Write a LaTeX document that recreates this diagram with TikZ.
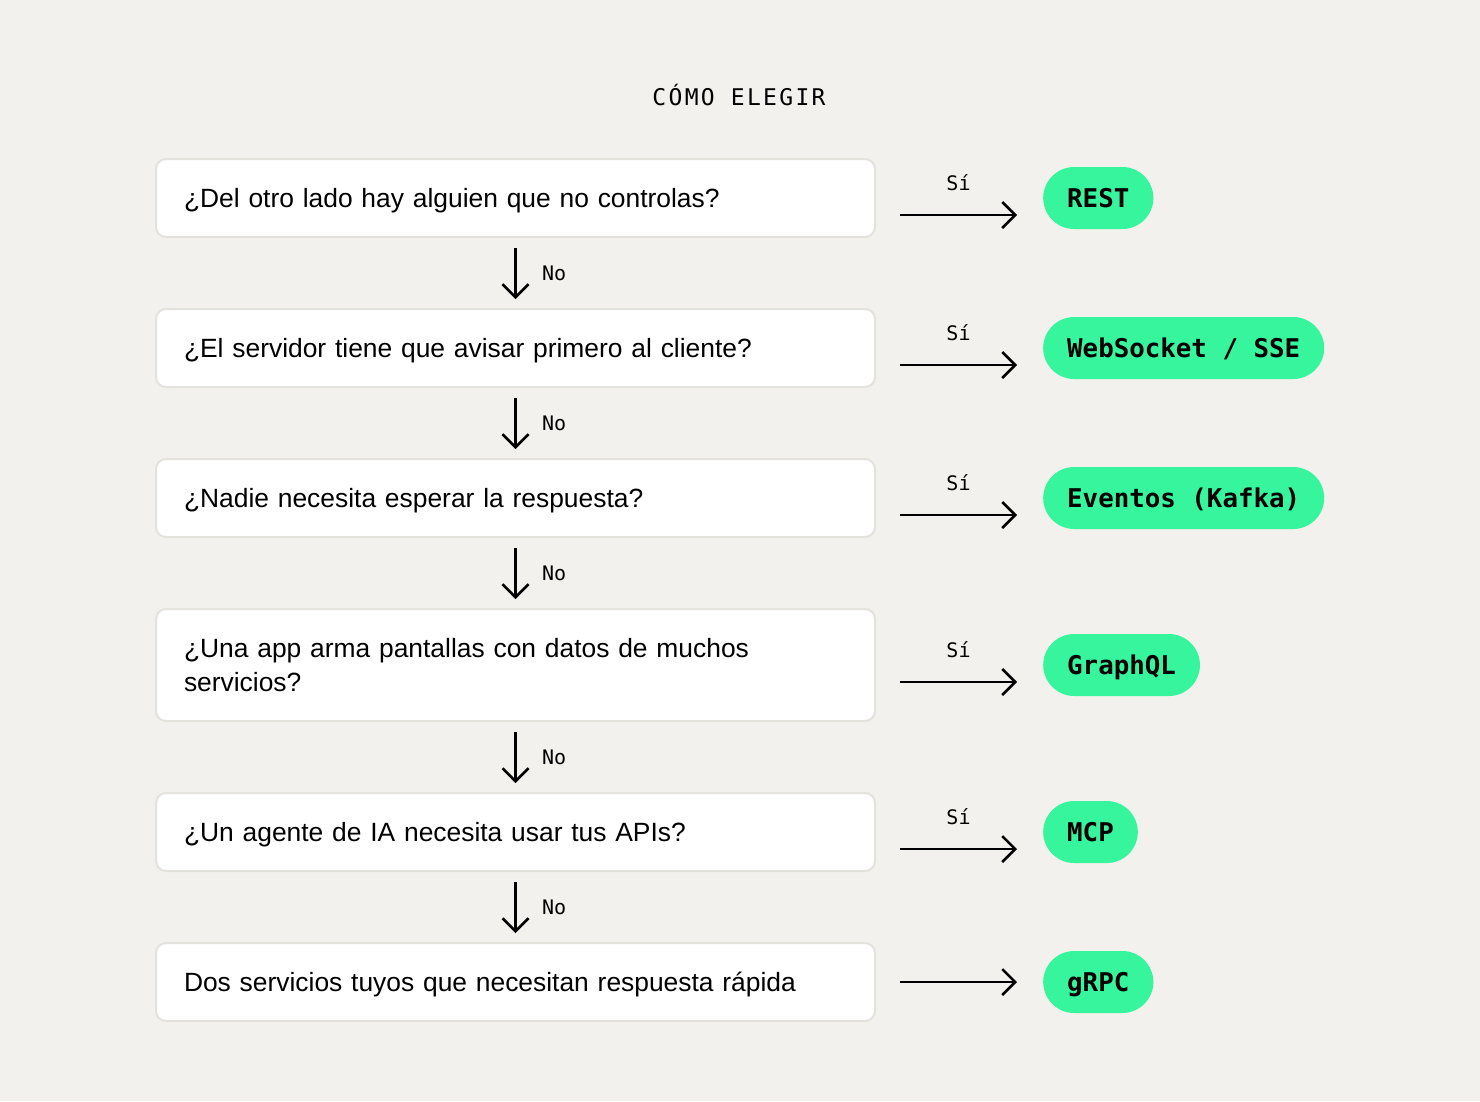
\documentclass[tikz,border=0pt]{standalone}
\usepackage{fontspec}
\setmainfont{Liberation Sans}
\setmonofont{DejaVu Sans Mono}
\usetikzlibrary{arrows.meta,positioning}
\definecolor{bg}{HTML}{F2F1ED}
\definecolor{rim}{HTML}{E3E2DD}
\definecolor{mint}{HTML}{36F59C}
\begin{document}
\begin{tikzpicture}[x=1pt,y=-1pt,
  question/.style={draw=rim,line width=2pt,fill=white,rounded corners=10pt,anchor=west,minimum height=78pt,text width=663pt,inner xsep=28pt,align=left,text height=18pt,text depth=0pt,font=\fontsize{26.4}{34}\selectfont},
  answer/.style={fill=mint,rounded corners=31pt,anchor=west,minimum height=62pt,inner xsep=24pt,inner ysep=0pt,text height=18pt,text depth=0pt,font=\fontsize{25.8}{30}\selectfont\ttfamily\bfseries},
  arr/.style={line width=2.5pt,-{Straight Barb[length=13pt,width=26pt]}},
  tag/.style={font=\fontsize{20}{24}\selectfont\ttfamily}]
\fill[bg] (0,0) rectangle (1480,1101);
\useasboundingbox (0,0) rectangle (1480,1101);
\node[font=\fontsize{23}{28}\selectfont\ttfamily\addfontfeature{LetterSpace=10}] (title) at (739,95) {CÓMO ELEGIR};
% questions
\node[question] (q1) at (155,198) {¿Del otro lado hay alguien que no controlas?};
\node[question] (q2) at (155,348) {¿El servidor tiene que avisar primero al cliente?};
\node[question] (q3) at (155,498) {¿Nadie necesita esperar la respuesta?};
\node[question,minimum height=112pt,text depth=34pt] (q4) at (155,665) {¿Una app arma pantallas con datos de muchos\\servicios?};
\node[question] (q5) at (155,832) {¿Un agente de IA necesita usar tus APIs?};
\node[question] (q6) at (155,982) {Dos servicios tuyos que necesitan respuesta rápida};
% answers
\node[answer] (a1) at (1043,198) {REST};
\node[answer] (a2) at (1043,348) {WebSocket / SSE};
\node[answer] (a3) at (1043,498) {Eventos (Kafka)};
\node[answer] (a4) at (1043,665) {GraphQL};
\node[answer] (a5) at (1043,832) {MCP};
\node[answer] (a6) at (1043,982) {gRPC};
% arrows
\foreach \i in {1,...,5}{
  \pgfmathtruncatemacro\j{\i+1}
  \draw[arr,shorten <=10pt,shorten >=9pt] (q\i.south) -- node[tag,right=22pt]{No} (q\j.north);
  \draw[arr] ([shift={(24,17)}]q\i.east) -- node[tag,above=20pt]{Sí} ([shift={(-26,17)}]a\i.west);
}
\draw[arr] ([shift={(24,0)}]q6.east) -- ([shift={(-26,0)}]a6.west);
\end{tikzpicture}
\end{document}
